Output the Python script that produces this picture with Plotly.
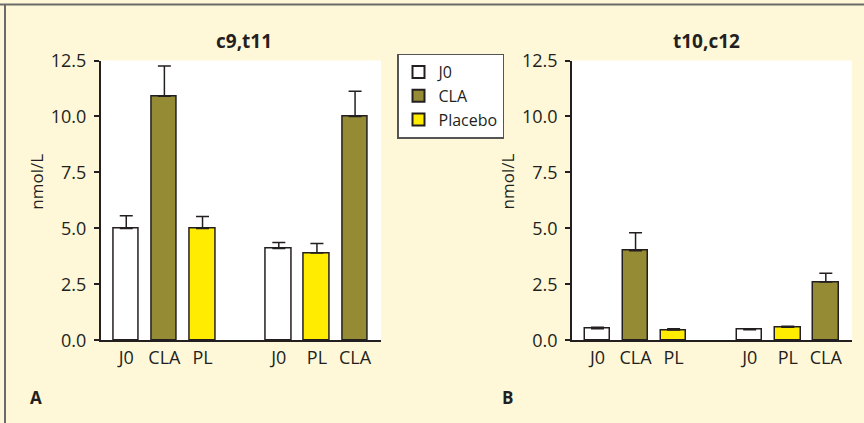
import plotly.graph_objects as go
from plotly.subplots import make_subplots

# Bar slots on each panel (a gap of one slot separates the two groups)
tick_positions = [0, 1, 2, 4, 5, 6]
tick_labels = ["J0", "CLA", "PL", "J0", "PL", "CLA"]

series_names = ["J0", "CLA", "Placebo"]
series_positions = {"J0": [0, 4], "CLA": [1, 6], "Placebo": [2, 5]}

# Panel A: c9,t11 (mean and upper SEM)
c9t11_values = {"J0": [5.0, 4.1], "CLA": [10.9, 10.0], "Placebo": [5.0, 3.9]}
c9t11_errors = {"J0": [0.56, 0.27], "CLA": [1.35, 1.13], "Placebo": [0.53, 0.42]}

# Panel B: t10,c12
t10c12_values = {"J0": [0.52, 0.47], "CLA": [4.0, 2.6], "Placebo": [0.46, 0.58]}
t10c12_errors = {"J0": [0.06, 0.03], "CLA": [0.8, 0.4], "Placebo": [0.06, 0.05]}

y_ticks = [0, 2.5, 5, 7.5, 10, 12.5]
y_tick_text = ["0.0", "2.5", "5.0", "7.5", "10.0", "12.5"]

colors = {"J0": "#ffffff", "CLA": "#958b35", "Placebo": "#ffec00"}
INK = "#231f20"
CREAM = "#fef8d9"
FONT = "Open Sans"

W, H = 864, 423

fig = make_subplots(rows=1, cols=2)

for col, (vals, errs) in enumerate([(c9t11_values, c9t11_errors),
                                    (t10c12_values, t10c12_errors)], start=1):
    for name in series_names:
        fig.add_trace(
            go.Bar(
                x=series_positions[name],
                y=vals[name],
                width=0.67,
                name=name,
                showlegend=(col == 1),
                marker=dict(color=colors[name], line=dict(color=INK, width=1.5)),
                error_y=dict(type="data", array=errs[name],
                             arrayminus=[0] * len(errs[name]), symmetric=False,
                             color=INK, thickness=1.5, width=6.5),
            ),
            row=1, col=col,
        )

# Plot-area placement in pixels
px_left = [100.7, 572.0]
px_right = [381.0, 851.7]
px_top, px_bottom = 60.5, 340.3

for i, ax in enumerate(["xaxis", "xaxis2"]):
    fig.layout[ax].update(
        domain=[px_left[i] / W, px_right[i] / W],
        range=[-0.67, 6.68],
        tickvals=tick_positions, ticktext=tick_labels,
        showline=True, linecolor=INK, linewidth=1.5,
        ticks="", showgrid=False, zeroline=False, automargin=False,
        tickfont=dict(family=FONT, size=18, color=INK),
        fixedrange=True,
    )
for i, ax in enumerate(["yaxis", "yaxis2"]):
    fig.layout[ax].update(
        domain=[1 - px_bottom / H, 1 - px_top / H],
        range=[0, 12.5],
        tickvals=y_ticks, ticktext=y_tick_text,
        showline=True, linecolor=INK, linewidth=1.5,
        ticks="outside", ticklen=5, tickwidth=1.5, tickcolor=INK,
        ticklabelstandoff=4, automargin=False,
        showgrid=False, zeroline=False,
        tickfont=dict(family=FONT, size=18, color=INK),
        fixedrange=True,
    )


def note(text, x_px, y_px, size, angle=0):
    return dict(text=text, x=x_px / W, y=1 - y_px / H,
                xref="paper", yref="paper", showarrow=False,
                xanchor="center", yanchor="middle", textangle=angle,
                font=dict(family=FONT, size=size, color=INK))


annotations = [
    # Panel titles
    note("<b>c9,t11</b>", 244, 41, 19),
    note("<b>t10,c12</b>", 706, 41, 19),
    # Y axis titles
    note("nmol/L", 36.7, 182, 17, -90),
    note("nmol/L", 507.5, 182, 17, -90),
    # Panel letters
    note("<b>A</b>", 36, 397, 17),
    note("<b>B</b>", 507, 397, 17),
]

# Frame along the top and left edges
shapes = [
    dict(type="line", xref="paper", yref="paper", x0=0, x1=1,
         y0=1 - 4.5 / H, y1=1 - 4.5 / H, line=dict(color="#6b6b6b", width=2)),
    dict(type="line", xref="paper", yref="paper", x0=5 / W, x1=5 / W,
         y0=0, y1=1 - 4.5 / H, line=dict(color="#6b6b6b", width=2)),
]

fig.update_layout(
    template="none",
    width=W, height=H, autosize=False,
    margin=dict(l=0, r=0, t=0, b=0, pad=0),
    paper_bgcolor=CREAM, plot_bgcolor="#ffffff",
    barmode="overlay",
    bargap=0,
    annotations=annotations,
    shapes=shapes,
    font=dict(family=FONT, color=INK),
    legend=dict(
        x=397 / W, y=1 - 53.5 / H, xanchor="left", yanchor="top",
        bgcolor="#ffffff", bordercolor="#555555", borderwidth=1.5,
        font=dict(family=FONT, size=16, color=INK),
        tracegroupgap=0, itemsizing="constant", itemwidth=30,
    ),
)

fig.write_html("out.html")
